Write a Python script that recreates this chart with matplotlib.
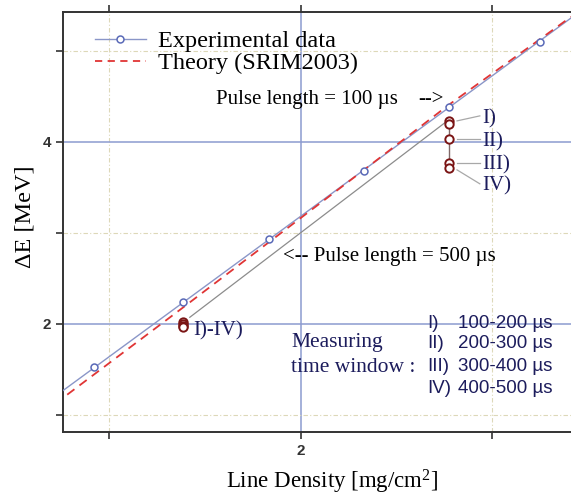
import numpy as np
import matplotlib
matplotlib.use("Agg")
import matplotlib.pyplot as plt
from matplotlib.ticker import FixedLocator, NullFormatter

SERIF = "Liberation Serif"
SANS = "Liberation Sans"
NAVY = "#1c1c5c"

plt.rcParams["mathtext.fontset"] = "custom"
plt.rcParams["mathtext.rm"] = SERIF
plt.rcParams["mathtext.it"] = SERIF + ":italic"
plt.rcParams["mathtext.default"] = "rm"

# experimental data (pulse length 100 us)
exp_x = [0.922, 1.383, 1.835, 2.330, 2.771, 3.248]
exp_y = [1.525, 2.241, 2.930, 3.682, 4.380, 5.097]

# straight fit through the experimental points
fit_x = [0.758, 3.41]
fit_y = [1.265, 5.357]

# SRIM2003 theory curve
theo_x = [0.78, 1.38, 2.33, 2.77, 3.41]
theo_y = [1.22, 2.17, 3.69, 4.40, 5.37]

# pulse length 500 us, time windows I)-IV)
p500_x1 = [1.383, 1.383, 1.383, 1.383]
p500_y1 = [2.020, 2.000, 1.975, 1.965]
p500_x2 = [2.771, 2.771, 2.771, 2.771, 2.771]
p500_y2 = [4.227, 4.191, 4.030, 3.763, 3.706]
line500_x = [1.42, 2.76]
line500_y = [2.07, 4.22]

windows = ["I)", "II)", "III)", "IV)"]
window_ranges = ["100-200 \u00b5s", "200-300 \u00b5s", "300-400 \u00b5s", "400-500 \u00b5s"]

fig = plt.figure(figsize=(5.71, 4.98), dpi=100)
ax = fig.add_axes([63/571, 66/498, 1 - 63/571, 420/498])

ax.set_xlim(0.758, 3.41)
ax.set_ylim(0.81, 5.423)

# grids
ax.xaxis.set_major_locator(FixedLocator([2]))
ax.xaxis.set_minor_locator(FixedLocator([1, 3]))
ax.yaxis.set_major_locator(FixedLocator([2, 4]))
ax.yaxis.set_minor_locator(FixedLocator([1, 3, 5]))
ax.xaxis.set_minor_formatter(NullFormatter())
ax.yaxis.set_minor_formatter(NullFormatter())
ax.grid(which="major", color="#8c9bd0", lw=1.1, ls="-")
ax.grid(which="minor", color="#ddd8b8", lw=0.8, ls=(0, (4, 2, 1, 2)))
ax.set_axisbelow(True)

ax.plot(fit_x, fit_y, color="#8a96c8", lw=1.0, zorder=3)
ax.plot(exp_x, exp_y, ls="none", marker="o", ms=5, mfc="white",
        mec="#5a6ab8", mew=1.1, zorder=5)
ax.plot(theo_x, theo_y, color="#e03535", lw=1.3, ls=(0, (5, 3.5)), zorder=4)

ax.plot(line500_x, line500_y, color="#8c8c8c", lw=0.9, zorder=3)
ax.plot(p500_x2[1:4], p500_y2[1:4], color="#806868", lw=1.0, zorder=3)
ax.plot(p500_x1, p500_y1, ls="none", marker="o", ms=6, mfc="white",
        mec="#7a1414", mew=1.4, zorder=5)
ax.plot(p500_x2, p500_y2, ls="none", marker="o", ms=6, mfc="white",
        mec="#7a1414", mew=1.4, zorder=5)

# legend built from proxies
h1, = ax.plot([], [], color="#8a96c8", lw=1.0, marker="o", ms=5,
              mfc="white", mec="#5a6ab8", mew=1.1)
h2, = ax.plot([], [], color="#e03535", lw=1.3, ls=(0, (4, 3)))
ax.legend([h1, h2], ["Experimental data", "Theory (SRIM2003)"],
          loc="upper left", bbox_to_anchor=(0.039, 0.985), frameon=False,
          prop={"family": SERIF, "size": 17.5}, handlelength=2.1,
          handletextpad=0.5, labelspacing=0.0, borderpad=0, numpoints=1)

tfont = dict(family=SERIF, size=15)
ax.text(1.557, 4.457, "Pulse length = 100 \u00b5s", va="center", **tfont)
ax.text(2.61, 4.46, "-->", va="center", **tfont)
ax.text(1.906, 2.735, "<-- Pulse length = 500 \u00b5s", va="center", **tfont)

# labels for the windows next to the 100 us point
lab_y = [4.249, 3.997, 3.744, 3.514]
lead_end = [4.282, 4.030, 3.766, 3.536]
lead_start = [4.227, 4.030, 3.766, 3.689]
for w, ly, le, ls_ in zip(windows, lab_y, lead_end, lead_start):
    ax.plot([2.815, 2.934], [ls_, le], color="#a8a8a8", lw=0.9, zorder=2)
    ax.text(2.945, ly, w, va="center", color=NAVY, family=SERIF, size=15)

ax.text(1.437, 1.923, "I)-IV)", va="center", color=NAVY, family=SERIF, size=15)

ax.text(1.948, 1.792, "Measuring", va="center", color=NAVY, family=SERIF, size=15.5)
ax.text(1.948, 1.517, "time window :", va="center", color=NAVY, family=SERIF, size=15.5)
list_y = [2.0, 1.781, 1.528, 1.287]
for w, r, y in zip(windows, window_ranges, list_y):
    ax.text(2.662, y, w, va="center", color=NAVY, family=SANS, size=13.5)
    ax.text(2.818, y, r, va="center", color=NAVY, family=SANS, size=13.5)

ax.set_xlabel("Line Density [mg/cm$^{2}$]", family=SERIF, size=16.5)
ax.set_ylabel("\u0394E [MeV]", family=SERIF, size=17.5)
ax.xaxis.set_label_coords(0.53, -0.086)
ax.yaxis.set_label_coords(-0.055, 0.512)

for side in ["left", "bottom", "top"]:
    ax.spines[side].set_color("#333333")
    ax.spines[side].set_linewidth(1.4)
ax.spines["right"].set_visible(False)
ax.tick_params(which="both", direction="out", length=5, width=1.2,
               color="#333333", top=True, right=False,
               labelsize=11, labelcolor="#333333")
for lab in ax.get_xticklabels() + ax.get_yticklabels():
    lab.set_family(SANS)
    lab.set_fontweight("bold")

fig.savefig("out.png", dpi=100)
